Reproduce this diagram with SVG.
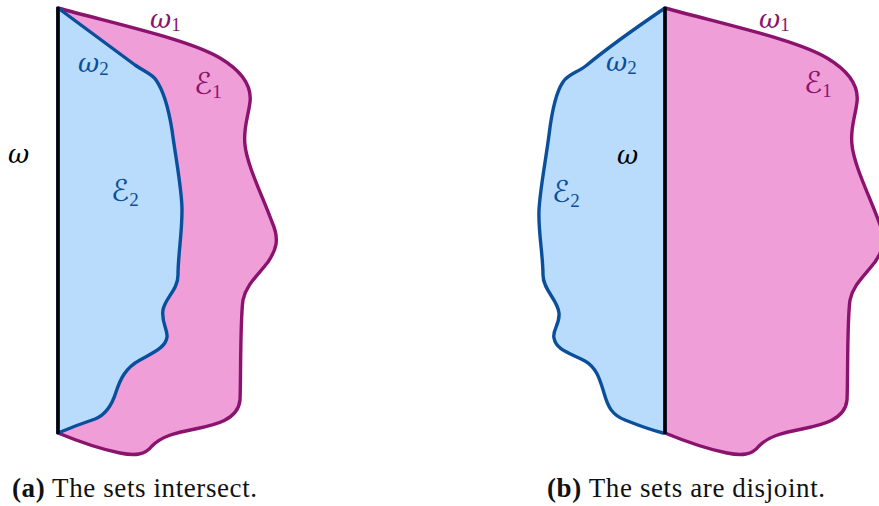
<svg xmlns="http://www.w3.org/2000/svg" width="879" height="506" viewBox="0 0 879 506">
  <style>
    .pink { fill: #f09ed8; stroke: #8a136e; stroke-width: 3.4; stroke-linejoin: round; }
    .blue { fill: #badcfc; stroke: #0a4f9b; stroke-width: 3.4; stroke-linejoin: round; }
    .axis { stroke: #000; stroke-width: 3.4; }
    .m { font-family: "DejaVu Serif", serif; font-style: italic; font-size: 26px; }
    .cal { font-family: "DejaVu Sans", sans-serif; font-size: 30px; }
    .sub { font-family: "Liberation Serif", serif; font-style: normal; font-size: 19px; }
    .c1 { fill: #8a136e; }
    .c2 { fill: #0a4f9b; }
    .c0 { fill: #000; }
    .cap { font-family: "Liberation Serif", serif; font-size: 27px; fill: #111; }
    .b { font-weight: bold; }
  </style>
  <defs>
    <path id="set1" d="M58,8 C120,25 190,40 220,58 C240,70 252,85 250,102 C248,118 243,128 245,145 C247,165 262,195 272,222 C280,240 276,250 268,262 C258,275 246,285 243,300 C240,320 241,380 240,400 C238,420 215,425 195,429 C175,433 162,436 152,446 C145,455 135,456 120,453 C100,449 75,440 58,433 Z"/>
  </defs>

  <!-- (a) intersecting sets -->
  <g id="panel-a">
    <use href="#set1" class="pink"/>
    <path class="blue" d="M58,8 L135,65 C145,72 152,74 156,80 C163,90 168,105 172,130 C176,160 182,190 182,210 C182,235 178,255 178,275 C178,290 165,298 163,310 C161,322 168,330 167,337 C166,348 150,354 140,360 C125,368 120,380 116,392 C112,405 105,415 95,419 C80,424 65,430 58,433 Z"/>
    <line class="axis" x1="58" y1="7" x2="58" y2="434"/>
    <text class="m c0" x="8" y="163">ω</text>
    <text class="m c1" x="150" y="28">ω<tspan class="sub" dy="3">1</tspan></text>
    <text class="m c2" x="78" y="72">ω<tspan class="sub" dy="3">2</tspan></text>
    <text class="cal c1" x="194" y="94">ℰ<tspan class="sub" dy="4">1</tspan></text>
    <text class="cal c2" x="111" y="201">ℰ<tspan class="sub" dy="5">2</tspan></text>
    <text class="cap" x="12" y="497" textLength="245" lengthAdjust="spacing"><tspan class="b">(a)</tspan> The sets intersect.</text>
  </g>

  <!-- (b) disjoint sets -->
  <g id="panel-b">
    <use href="#set1" class="pink" transform="translate(607,0)"/>
    <path class="blue" d="M665,8 C640,25 605,50 587,65 C577,73 568,74 563,82 C556,92 552,110 549,135 C545,165 540,190 539,210 C538,230 543,255 543,275 C543,290 558,300 559,313 C560,325 552,330 554,338 C556,350 570,353 585,361 C597,368 600,380 604,393 C608,407 612,415 625,420 C640,426 655,431 663,433 L665,433 Z"/>
    <line class="axis" x1="665" y1="7" x2="665" y2="434"/>
    <text class="m c0" x="617" y="164">ω</text>
    <text class="m c1" x="759" y="28">ω<tspan class="sub" dy="3">1</tspan></text>
    <text class="m c2" x="606" y="71">ω<tspan class="sub" dy="3">2</tspan></text>
    <text class="cal c1" x="804" y="93">ℰ<tspan class="sub" dy="4">1</tspan></text>
    <text class="cal c2" x="552" y="202">ℰ<tspan class="sub" dy="5">2</tspan></text>
    <text class="cap" x="547" y="497" textLength="278" lengthAdjust="spacing"><tspan class="b">(b)</tspan> The sets are disjoint.</text>
  </g>
</svg>
